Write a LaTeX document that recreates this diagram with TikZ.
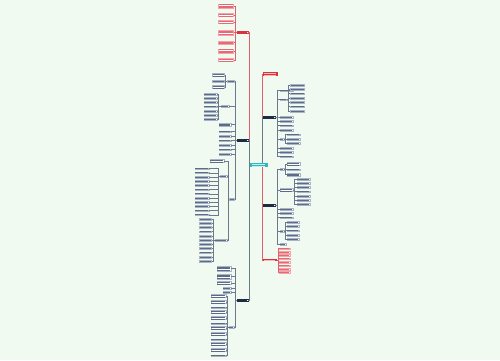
\documentclass[tikz,border=0pt]{standalone}
\usepackage{xcolor}
\definecolor{bg}{HTML}{F0FAF1}
\definecolor{cenc}{HTML}{2FBAC0}
\definecolor{cent}{HTML}{BFEFF0}
\definecolor{redc}{HTML}{D9333F}
\definecolor{rnt}{HTML}{F5B8BD}
\definecolor{pinkf}{HTML}{FDEDEF}
\definecolor{darkc}{HTML}{1E2B45}
\definecolor{linec}{HTML}{6A7A8C}
\definecolor{rlinec}{HTML}{E0606A}
\definecolor{leafb}{HTML}{A9B5C6}
\definecolor{leaft}{HTML}{5C6C86}
\definecolor{rleafb}{HTML}{F2A4AA}
\definecolor{rleaft}{HTML}{E46A73}
\newcount\lncnt
\newcommand\tx[2]{\vbox{\offinterlineskip\lncnt=#1\relax\loop\hbox{\rule{#2pt}{0.45pt}}\ifnum\lncnt>1 \vskip1pt\advance\lncnt by -1 \repeat}}
% right-hand column of children: parent, bracket offset, prefix, x(west), list y/lines, width, node style, line style
\newcommand\rcol[8]{\foreach \yy/\nn [count=\k] in {#5}{%
  \node[#7,anchor=west] (#3\k) at (#4,\yy) {\tx{\nn}{#6}};
  \draw[#8] (#1.east) -- ++(#2,0) |- (#3\k.west);}}
% left-hand column of children
\newcommand\lcol[8]{\foreach \yy/\nn [count=\k] in {#5}{%
  \node[#7,anchor=east] (#3\k) at (#4,\yy) {\tx{\nn}{#6}};
  \draw[#8] (#1.west) -- ++(-#2,0) |- (#3\k.east);}}
\tikzset{
 leaf/.style={draw=leafb, fill=white, line width=0.2pt, inner sep=0.6pt, text=leaft},
 rleaf/.style={draw=rleafb, fill=white, line width=0.2pt, inner sep=0.6pt, text=rleaft},
 dnode/.style={draw=darkc, fill=white, line width=0.5pt, inner sep=0.8pt, text=darkc},
 rnode/.style={fill=redc, inner sep=1.2pt, text=rnt},
 lnode/.style={draw=redc, fill=pinkf, line width=0.4pt, inner sep=0.8pt, text=redc},
 cen/.style={fill=cenc, inner xsep=2pt, inner ysep=1.2pt, text=cent, minimum width=18pt},
 conn/.style={draw=linec, line width=0.3pt},
 rconn/.style={draw=rlinec, line width=0.3pt},
}
\begin{document}
\begin{tikzpicture}[x=1pt,y=-1pt]
\fill[bg] (0,0) rectangle (500,360);
\useasboundingbox (0,0) rectangle (500,360);
% central
\node[cen] (cen) at (258.5,165) {\tx{2}{13}};
% main branches
\node[lnode,anchor=east] (L1) at (248,32.5) {\tx{1}{9}};
\node[dnode,anchor=east] (L2) at (248,140.5) {\tx{1}{9}};
\node[dnode,anchor=east] (L3) at (248,300) {\tx{1}{9}};
\node[rnode,anchor=west] (R1) at (263,74) {\tx{2}{12}};
\node[dnode,anchor=west] (R2) at (263,117) {\tx{1}{10}};
\node[dnode,anchor=west] (R3) at (263,205.5) {\tx{1}{10}};
\node[rnode,anchor=west] (R4) at (263,260) {\tx{1}{11}};
\draw[rconn] (cen.west) -- ++(-0.5,0) |- (L1.east);
\draw[conn] (cen.west) -- ++(-0.5,0) |- (L2.east);
\draw[conn] (cen.west) -- ++(-0.5,0) |- (L3.east);
\draw[rconn] ([xshift=3.5pt]cen.north) |- (R1.west);
\draw[conn] ([xshift=3.5pt]cen.north) |- (R2.west);
\draw[conn] ([xshift=3.5pt]cen.south) |- (R3.west);
\draw[rconn] ([xshift=3.5pt]cen.south) |- (R4.west);
% L1
\lcol{L1}{2}{La}{233.5}{6/3,15/2,22/2,32.5/3,42.5/2,51/3,60/2}{14}{rleaf}{rconn}
% L2
\lcol{L2}{1.5}{L2a}{234.5}{81/1}{6}{leaf}{conn}
\lcol{L2a1}{1.5}{L2al}{224.5}{75/2,81/1,87/2}{11}{leaf}{conn}
\lcol{L2}{1.5}{L2b}{229}{106/1}{7}{leaf}{conn}
\lcol{L2b1}{2}{L2bl}{217}{94/1,98.2/1,102.4/1,106.6/1,110.8/1,115/1,119.2/1}{12}{leaf}{conn}
\lcol{L2}{1.5}{L2d}{231}{124.5/2,131.5/1,136/1,140.5/1,145/1,149.5/1,154/1}{11}{leaf}{conn}
\lcol{L2}{1.5}{L2c}{234.5}{199/1}{4}{leaf}{conn}
\lcol{L2c1}{1}{L2cx}{224}{161/2}{13}{leaf}{conn}
\lcol{L2c1}{1}{L2cy}{227}{176/1}{6}{leaf}{conn}
\lcol{L2cy1}{1.5}{L2cyl}{209}{168.5/1,172.7/1,176.9/1,181.1/1,185.3/1,189.5/1,193.7/1,197.9/1,202.1/1,206.3/1,210.5/1,214.7/1}{13}{leaf}{conn}
\lcol{L2c1}{1}{L2cz}{227}{240/1}{11}{leaf}{conn}
\lcol{L2cz1}{1.5}{L2czl}{211.5}{219/1,223.2/1,227.4/1,231.6/1,235.8/1,240/1,244.2/1,248.4/1,252.6/1,256.8/1,261/1}{11}{leaf}{conn}
% L3
\lcol{L3}{1.5}{L3a}{231}{268.5/3,276.5/3,283/2}{13}{leaf}{conn}
\lcol{L3}{1.5}{L3b}{231}{288/1,292/1}{7}{leaf}{conn}
\lcol{L3}{1.5}{L3c}{234}{327/1}{4}{leaf}{conn}
\lcol{L3c1}{1}{L3cl}{226}{296/2,302/2,307.5/1,312/2,318/2,323.5/1,328/2,334/2,339.5/1,344/2,350/2,355.5/1}{14}{leaf}{conn}
% R2
\rcol{R2}{2.5}{R2a}{279.5}{90.5/1}{12}{leaf}{conn}
\rcol{R2}{2.5}{R2b}{279.5}{99.5/1}{6}{leaf}{conn}
\rcol{R2b1}{1.5}{R2bl}{290}{85/1,89.3/1,93.6/1,97.9/1,102.2/1,106.5/1,110.8/1}{13}{leaf}{conn}
\rcol{R2}{2.5}{R2d}{279.5}{117/1,121.3/1,125.6/1,129.9/1}{12}{leaf}{conn}
\rcol{R2}{2.5}{R2c}{279.5}{139/1}{3}{leaf}{conn}
\rcol{R2c1}{1.2}{R2cl}{286.5}{134.5/1,138.8/1,143.1/1}{12}{leaf}{conn}
\rcol{R2}{2.5}{R2e}{279.5}{148/1,152.3/1,156.6/1}{12}{leaf}{conn}
% R3
\rcol{R3}{2.5}{R3a}{279.5}{169/1}{3}{leaf}{conn}
\rcol{R3a1}{1.2}{R3al}{286.5}{164/2,169.5/1,174.5/2}{12}{leaf}{conn}
\rcol{R3}{2.5}{R3b}{279.5}{190/2}{12}{leaf}{conn}
\rcol{R3b1}{1.3}{R3bl}{296.5}{179/1,183.2/1,187.4/1,191.6/1,195.8/1,200/1,204.2/1}{12}{leaf}{conn}
\rcol{R3}{2.5}{R3d}{279.5}{209/1,213.3/1,217.6/1}{12}{leaf}{conn}
\rcol{R3}{2.5}{R3c}{279.5}{231/1}{3}{leaf}{conn}
\rcol{R3c1}{1.2}{R3cl}{286.5}{222/1,226.3/1,230.6/1,234.9/1,239.2/1}{11}{leaf}{conn}
\rcol{R3}{2.5}{R3e}{279.5}{244/1}{5}{leaf}{conn}
% R4
\rcol{R4}{1.5}{R4l}{278.5}{248.5/1,251.9/1,255.3/1,258.7/1,262.1/1,265.5/1,268.9/1,272.3/1}{10}{rleaf}{rconn}
\end{tikzpicture}
\end{document}
